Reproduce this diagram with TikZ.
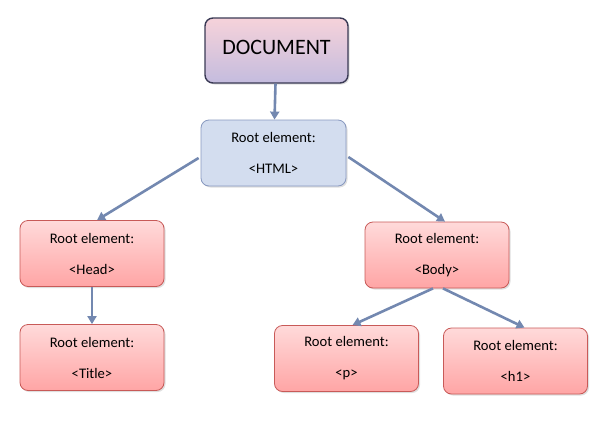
\documentclass[tikz,border=0pt]{standalone}
\usepackage{fontspec}
\setmainfont{Carlito}
\usetikzlibrary{arrows.meta,calc,shadows}
\definecolor{arrowc}{HTML}{7388B0}
\definecolor{redtop}{HTML}{FFDADA}
\definecolor{redbot}{HTML}{FFA5A5}
\definecolor{redborder}{HTML}{C85A58}
\definecolor{bluefill}{HTML}{D3DDEF}
\definecolor{blueborder}{HTML}{8798BF}
\definecolor{doctop}{HTML}{F6D2DA}
\definecolor{docbot}{HTML}{C4BCDE}
\definecolor{docborder}{HTML}{3A3A55}
\tikzset{
  base/.style={rectangle, rounded corners=8pt, align=center, inner sep=0pt,
    font=\fontsize{14.6}{31}\selectfont,
    drop shadow={shadow xshift=1.5pt, shadow yshift=-1.5pt, fill=black!25, opacity=0.5}},
  redbox/.style={base, draw=redborder, line width=0.8pt, top color=redtop, bottom color=redbot,
    minimum width=144pt, minimum height=66pt},
  bluebox/.style={base, draw=blueborder, line width=0.8pt, fill=bluefill,
    minimum width=145pt, minimum height=66pt},
  docbox/.style={base, draw=docborder, line width=1.4pt, top color=doctop, bottom color=docbot,
    minimum width=143pt, minimum height=65pt, font=\fontsize{22}{24}\selectfont},
  conn/.style={draw=arrowc, line width=2.6pt, -{Triangle[length=8pt,width=9pt]}}
}
\begin{document}
\begin{tikzpicture}[x=1pt,y=-1pt]
\useasboundingbox (0,0) rectangle (606,424);
\node[docbox] (doc) at (276.5,50.5) {\raisebox{6pt}{DOCUMENT}};
\node[bluebox] (html) at (273.5,153) {Root element:\\<HTML>};
\node[redbox] (head) at (92,253.5) {Root element:\\<Head>};
\node[redbox] (title) at (92,357.5) {Root element:\\<Title>};
\node[redbox] (body) at (437,255) {Root element:\\<Body>};
\node[redbox] (p) at (346.5,358.5) {Root element:\\<p>};
\node[redbox] (h1) at (515.5,361) {Root element:\\<h1>};
\draw[conn] ($(doc.south)+(-1,0)$) -- ($(html.north)+(1,0)$);
\draw[conn] ($(html.west)+(-2,5)$) -- ($(head.north)+(5,0)$);
\draw[conn] ($(html.east)+(2,4)$) -- ($(body.north)+(8,0)$);
\draw[conn] (head.south) -- (title.north);
\draw[conn] ($(body.south)+(-4,0)$) -- ($(p.north)+(6,0)$);
\draw[conn] ($(body.south)+(6,0)$) -- ($(h1.north)+(9,0)$);
\end{tikzpicture}
\end{document}
